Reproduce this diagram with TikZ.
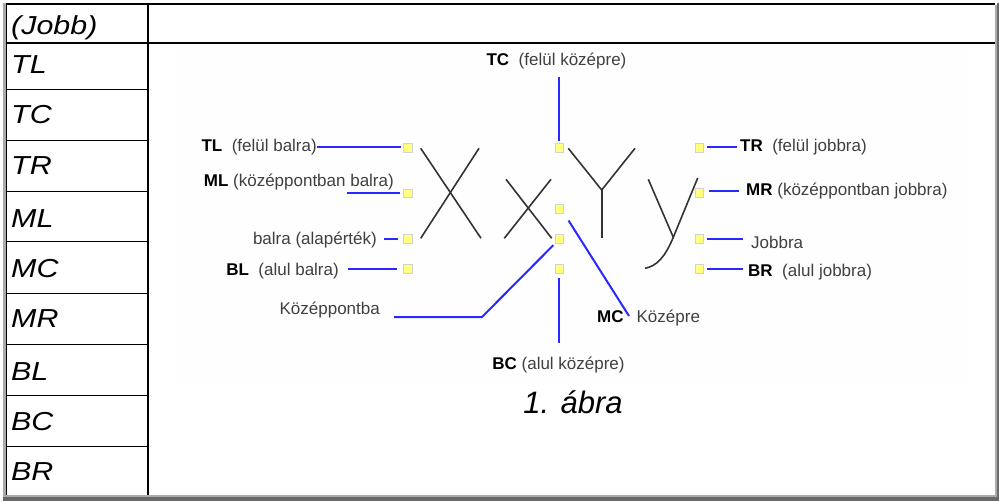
\documentclass[tikz,border=0pt]{standalone}
\usepackage{fontspec}
\setmainfont{Liberation Sans}
\newfontfamily\cellfont[FakeStretch=1.17]{Liberation Sans}
\definecolor{sqfill}{RGB}{255,255,128}
\definecolor{sqdraw}{RGB}{210,210,210}
\definecolor{lnblue}{RGB}{40,40,255}
\definecolor{picbg}{RGB}{254,254,254}
\definecolor{brdlight}{RGB}{170,170,170}
\definecolor{brddark}{RGB}{105,105,105}
\newcommand{\mybf}[1]{\textbf{\color{black}#1}}
\begin{document}
\begin{tikzpicture}[x=1pt,y=-1pt,
  sq/.style={draw=sqdraw, fill=sqfill, minimum size=8.5pt, inner sep=0pt, line width=1pt},
  lbl/.style={inner sep=0pt, font=\fontsize{17}{19}\selectfont, text=black!75},
  bl/.style={draw=lnblue, line width=2pt},
  gl/.style={draw=black!80, line width=1.6pt},
  cell/.style={anchor=base west, inner sep=0pt, font=\cellfont\fontsize{26}{30}\selectfont\itshape},
  tline/.style={draw=black, line width=1.4pt}
]
\fill[white] (0,0) rectangle (999,501);
\useasboundingbox (0,0) rectangle (999,501);

% table frame
\draw[tline, line width=2pt] (5,3.5) -- (995,3.5);
\draw[tline, line width=2pt] (148,43) -- (995,43);
\fill[picbg] (176,43.8) rectangle (969,383);
\fill[brdlight] (3,3) rectangle (5.5,497);
\fill[black] (5.5,3) rectangle (7.3,497);
\fill[brdlight] (994.5,5) rectangle (997,497);
\fill[brddark] (997,3) rectangle (999,501);
\fill[brdlight] (3,494.8) rectangle (997,497.3);
\fill[brddark] (3,497.3) rectangle (999,501);
\draw[tline, line width=1.6pt] (147.7,3) -- (147.7,495);
\foreach \yy in {43,89.3,140.7,191.7,241.7,293.3,344.3,395.7,446.7}
  \draw[tline] (7,\yy) -- (147.7,\yy);

% left column texts
\node[cell] (hJobb) at (11,34) {(Jobb)};
\node[cell] (hTL) at (11,73) {TL};
\node[cell] (hTC) at (11,123) {TC};
\node[cell] (hTR) at (11,174) {TR};
\node[cell] (hML) at (11,227) {ML};
\node[cell] (hMC) at (11,277) {MC};
\node[cell] (hMR) at (11,327) {MR};
\node[cell] (hBL) at (11,380) {BL};
\node[cell] (hBC) at (11,430) {BC};
\node[cell] (hBR) at (11,480) {BR};

% caption
\node[anchor=base, inner sep=0pt, font=\fontsize{31}{34}\selectfont\itshape] (cap) at (573,413) {1. ábra};

% glyphs
\draw[gl] (420.7,148.3) -- (481,238.3);
\draw[gl] (479,148.3) -- (420.7,238.3);
\draw[gl] (506,179.3) -- (551.7,238.3);
\draw[gl] (551,179.3) -- (504.3,238.3);
\draw[gl] (568.3,148.3) -- (601.7,190) -- (635,148.3);
\draw[gl] (601.7,190) -- (601.7,238.3);
\draw[gl] (648.3,179.3) -- (673.3,237.3);
\draw[gl] (697.7,178) -- (673.3,237.3) .. controls (665,257) and (657,266) .. (645,268.3);

% squares
\node[sq] (sqTL) at (408,148) {};
\node[sq] (sqML) at (408,193.5) {};
\node[sq] (sqBal) at (408,239) {};
\node[sq] (sqBL) at (408,269) {};
\node[sq] (sqTC) at (559.5,148) {};
\node[sq] (sqMC) at (559.5,209) {};
\node[sq] (sqKoz) at (559.5,239) {};
\node[sq] (sqBC) at (559.5,269) {};
\node[sq] (sqTR) at (699.5,148) {};
\node[sq] (sqMR) at (699.5,193) {};
\node[sq] (sqJ) at (699.5,239) {};
\node[sq] (sqBR) at (699.5,269) {};

% labels
\node[lbl, anchor=center] (lTC) at (556.5,61) {\mybf{TC}\ \ (felül középre)};
\node[lbl, anchor=east] (lTL) at (317,147) {\mybf{TL}\ \ (felül balra)};
\node[lbl, anchor=east] (lML) at (394,182) {\mybf{ML} (középpontban balra)};
\node[lbl, anchor=east] (lBal) at (377,240) {balra (alapérték)};
\node[lbl, anchor=east] (lBL) at (339,271) {\mybf{BL}\ \ (alul balra)};
\node[lbl, anchor=east] (lKoz) at (380,310) {Középpontba};
\node[lbl, anchor=center] (lBC) at (558.5,365) {\mybf{BC} (alul középre)};
\node[lbl, anchor=west] (lMC) at (597,318) {\mybf{MC}\hspace{13pt}Középre};
\node[lbl, anchor=west] (lTR) at (740,147) {\mybf{TR}\ \ (felül jobbra)};
\node[lbl, anchor=west] (lMR) at (746,191) {\mybf{MR} (középpontban jobbra)};
\node[lbl, anchor=west] (lJ) at (751,242) {Jobbra};
\node[lbl, anchor=west] (lBR) at (748,272) {\mybf{BR}\ \ (alul jobbra)};

% connectors
\coordinate (cTC) at (559,77);
\coordinate (cML) at (347,193);
\coordinate (cBal) at (384,239);
\coordinate (cBL) at (348,269);
\coordinate (cKoz) at (394,317);
\coordinate (kBend) at (482,317);
\coordinate (cMC) at (629,316);
\coordinate (cBC) at (559,343);

\draw[bl, shorten >=2pt] (cTC) -- (cTC |- sqTC.north);
\draw[bl, shorten >=2pt] (lTL.east) -- (lTL.east -| sqTL.west);
\draw[bl, shorten >=3.5pt] (cML) -- (cML -| sqML.west);
\draw[bl, shorten >=5.5pt] (cBal) -- (cBal -| sqBal.west);
\draw[bl, shorten >=6.5pt] (cBL) -- (cBL -| sqBL.west);
\draw[bl, shorten >=2pt] (cKoz) -- (kBend) -- (sqKoz.south west);
\draw[bl, shorten >=8pt] (cMC) -- (sqMC.south east);
\draw[bl, shorten >=4.5pt] (cBC) -- (cBC |- sqBC.south);
\draw[bl, shorten <=3pt, shorten >=3pt] (lTR.west -| sqTR.east) -- (lTR.west);
\draw[bl, shorten <=5pt, shorten >=7pt] (lMR.west -| sqMR.east) -- (lMR.west);
\draw[bl, shorten <=3pt, shorten >=8pt] (sqJ.east) -- (sqJ.east -| lJ.west);
\draw[bl, shorten <=3pt, shorten >=5pt] (sqBR.east) -- (sqBR.east -| lBR.west);
\end{tikzpicture}
\end{document}
